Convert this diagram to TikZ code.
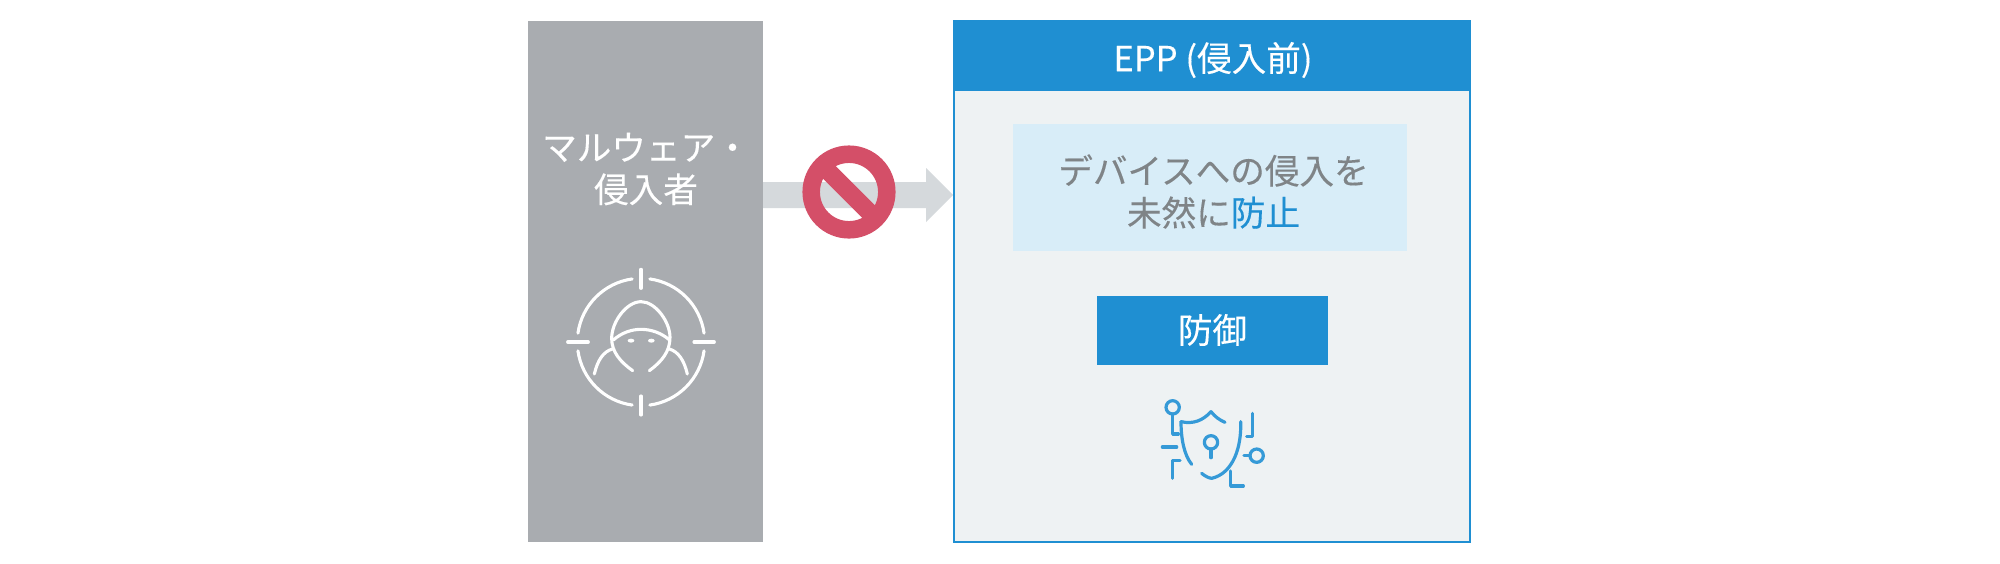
\documentclass[tikz,border=0pt]{standalone}
\usepackage{fontspec}
\setmainfont{Noto Sans CJK JP}[FakeBold=0.25]
\definecolor{grayp}{HTML}{A9ACB0}
\definecolor{bluep}{HTML}{1F8FD2}
\definecolor{boxp}{HTML}{EEF2F3}
\definecolor{lightp}{HTML}{D8EDF8}
\definecolor{arrowp}{HTML}{D5D9DC}
\definecolor{redp}{HTML}{D44F68}
\definecolor{textp}{HTML}{7F8487}
\tikzset{
  lbl/.style={inner sep=0pt,align=center,font=\fontsize{34.6}{42}\selectfont},
  wicon/.style={draw=white,line width=3.1pt,line cap=round,line join=round},
  bicon/.style={draw=bluep!90!white,line width=3.2pt,line cap=round,line join=round},
  zoomed/.style={x=0.33333pt,y=-0.33333pt}
}
\begin{document}
\begin{tikzpicture}[x=1pt,y=-1pt]
\useasboundingbox (0,0) rectangle (2000,563);
\fill[white] (0,0) rectangle (2000,563);
% left panel
\fill[grayp] (527.8,21) rectangle (763,541.5);
\node[lbl,text=white] (malware) at (646,169) {マルウェア・\\侵入者};
% target icon
\begin{scope}[shift={(530,250)},zoomed]
  \coordinate (tc) at (333,276);
  \foreach \a in {8,98,188,278}
    \draw[wicon] (tc) ++(\a:191 and -191) arc[start angle=\a,end angle=\a+74,x radius=191,y radius=-191];
  \draw[wicon] (333,58)--(333,115) (333,438)--(333,495) (113,276)--(175,276) (492,276)--(553,276);
  \draw[wicon] (308,362) .. controls (270,335) and (245,305) .. (245,265)
     .. controls (245,215) and (290,155) .. (333,155)
     .. controls (376,155) and (420,215) .. (420,262)
     .. controls (420,305) and (395,335) .. (358,362);
  \draw[wicon] (250,270) .. controls (275,248) and (305,238) .. (333,238) .. controls (365,238) and (395,250) .. (416,268);
  \draw[wicon] (193,372) .. controls (203,330) and (220,305) .. (247,297);
  \draw[wicon] (472,372) .. controls (462,330) and (445,305) .. (418,297);
  \fill[white] (303,272) ellipse[x radius=10,y radius=6];
  \fill[white] (364,272) ellipse[x radius=10,y radius=6];
\end{scope}
% arrow
\fill[arrowp] (763,182)--(926,182)--(926,168)--(953,195)--(926,222)--(926,208)--(763,208)--cycle;
% prohibition sign
\draw[redp,line width=17.5pt] (849,192) circle[radius=37.8];
\draw[redp,line width=18pt] (822.3,165.3)--(875.7,218.7);
% right panel
\fill[boxp] (954,21) rectangle (1470,542);
\fill[bluep] (954,21) rectangle (1470,91);
\draw[bluep,line width=1.6pt] (954,21) rectangle (1470,542);
\node[lbl,text=white] (epp) at (1213,60) {EPP (侵入前)};
\fill[lightp] (1013,124) rectangle (1407,251);
\node[lbl,text=textp] (msg) at (1213.5,191.5) {デバイスへの侵入を\\未然に\textcolor{bluep}{防止}};
\fill[bluep] (1097,296) rectangle (1328,365);
\node[lbl,text=white] (defense) at (1212.5,330) {防御};
% shield icon
\begin{scope}[shift={(1130,390)},zoomed]
  \draw[bicon] (128,52) circle[radius=20];
  \draw[bicon] (128,72)--(128,132)--(145,132);
  \draw[bicon] (153,95) .. controls (190,103) and (218,92) .. (243,65) .. controls (255,80) and (268,90) .. (285,97);
  \draw[bicon] (153,95) .. controls (153,145) and (162,195) .. (185,223);
  \draw[bicon] (332,95) .. controls (335,170) and (310,250) .. (245,265) .. controls (235,264) and (225,258) .. (215,250);
  \draw[bicon] (243,157) circle[radius=20];
  \draw[bicon] (243,177)--(243,203);
  \draw[bicon] (97,171)--(140,171);
  \draw[bicon] (150,212)--(127,212)--(127,265);
  \draw[bicon] (367,70)--(367,140)--(350,140);
  \draw[bicon] (302,243)--(302,288)--(340,288);
  \draw[bicon] (380,197) circle[radius=20];
  \draw[bicon] (342,197)--(360,197);
\end{scope}
\end{tikzpicture}
\end{document}
